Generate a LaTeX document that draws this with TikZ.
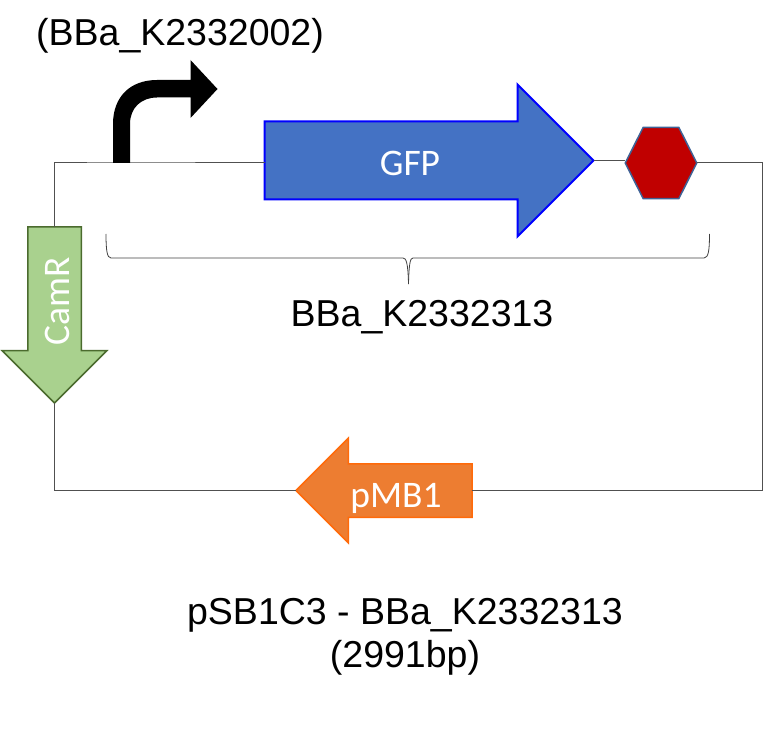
\documentclass[tikz,border=0pt]{standalone}
\usepackage{fontspec}
\setmainfont{Liberation Sans}
\newfontfamily\calib{Carlito}
\usetikzlibrary{shapes.arrows,shapes.geometric}
\definecolor{gfpfill}{HTML}{4472C4}
\definecolor{camfill}{HTML}{A9D18E}
\definecolor{camline}{HTML}{4B6B2E}
\definecolor{oriFill}{HTML}{ED7D31}
\definecolor{oriLine}{HTML}{FF6A0A}
\definecolor{hexline}{HTML}{3F6296}
\definecolor{hexfill}{HTML}{C00000}
\definecolor{wire}{HTML}{505050}
\tikzset{
  gene/.style={single arrow,single arrow tip angle=90,outer sep=0pt,line width=1.5pt,line join=miter,miter limit=10},
  wirepath/.style={draw=wire,line width=1pt},
  bracepath/.style={draw=black!75,line width=0.8pt},
  captext/.style={text=black,font=\fontsize{37.5}{43}\selectfont,align=center,inner sep=0pt},
  inlabel/.style={text=white,font=\calib\fontsize{37.5}{43}\selectfont,inner sep=0pt}
}
\begin{document}
\begin{tikzpicture}[x=1pt,y=-1pt]
\useasboundingbox (0,0) rectangle (763,730);
% corners of the backbone
\coordinate (tl) at (54.5,163);
\coordinate (tr) at (762,163);
\coordinate (br) at (762,490.5);
\coordinate (bl) at (54.5,490.5);
\coordinate (prom) at (121.5,163);
% shapes
\node[gene,draw=blue,fill=gfpfill,line width=2pt,inner sep=38pt,single arrow head extend=37pt,minimum height=329pt,anchor=tail] (gfp) at (264.5,160.5) {};
\node[gene,draw=camline,fill=camfill,inner sep=26pt,single arrow head extend=25.5pt,minimum height=176pt,shape border rotate=270,anchor=tail] (camr) at (54.5,227) {};
\node[gene,draw=oriLine,fill=oriFill,inner sep=26pt,single arrow head extend=25.5pt,minimum height=176pt,shape border rotate=180,anchor=tail] (pmb) at (472,490.5) {};
\node[regular polygon,regular polygon sides=6,minimum size=71.5pt,inner sep=0pt,outer sep=0pt,yscale=1.147,transform shape,draw=hexline,fill=hexfill,line width=1.5pt] (term) at (661,163) {};
% backbone
\draw[wirepath] (camr.tail) -- (tl) -- (prom) -- (gfp.tail |- prom);
\draw[wirepath] (gfp.tip) -- (term.west |- gfp.tip);
\draw[wirepath] (term.east) -- (tr) -- (br) -- (pmb.tail);
\draw[wirepath] (pmb.tip) -- (bl) -- (camr.tip);
% promoter
\fill[black] (113,163) -- (113,124) .. controls (113,97) and (130,80) .. (157,80)
  -- (190.5,80) -- (190.5,60) -- (217.5,89) -- (190.5,118) -- (190.5,97.5) -- (157,97.5)
  .. controls (141,97.5) and (130,108) .. (130,124) -- (130,163) -- cycle;
% brace
\draw[bracepath] (106,234) .. controls (106,250) and (107,258) .. (111,258) -- (403,258)
  .. controls (406,258) and (408,262) .. (408.5,284);
\draw[bracepath] (709.5,234) .. controls (709.5,250) and (708.5,258) .. (704,258) -- (413,258)
  .. controls (410.5,258) and (409,262) .. (408.5,284);
% texts
\node[inlabel] (gfplabel) at (410,163) {GFP};
\node[inlabel,rotate=90] (camlabel) at (57,301) {CamR};
\node[inlabel] (pmblabel) at (396,498.5) {pMB1};
\node[captext] (promname) at (180,36) {(BBa\_K2332002)};
\node[captext] (partname) at (422,317) {BBa\_K2332313};
\node[captext] (plasmid) at (405,637) {pSB1C3 - BBa\_K2332313\\(2991bp)};
\end{tikzpicture}
\end{document}
